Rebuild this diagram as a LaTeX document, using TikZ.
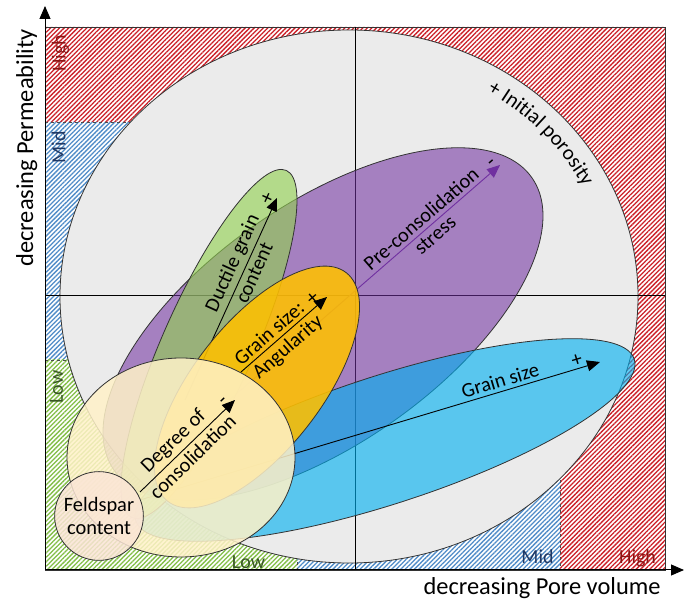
\documentclass[tikz,border=0pt]{standalone}
\usepackage{fontspec}
\setmainfont{Carlito}
\usepackage{xcolor}
\usetikzlibrary{arrows.meta,patterns.meta,decorations.text}

\definecolor{zoneHigh}{RGB}{204,32,40}
\definecolor{zoneMid}{RGB}{80,140,200}
\definecolor{zoneLow}{RGB}{130,190,70}
\definecolor{txtHigh}{RGB}{140,20,20}
\definecolor{txtMid}{RGB}{31,56,100}
\definecolor{txtLow}{RGB}{56,87,35}
\definecolor{porogrey}{RGB}{235,235,235}
\definecolor{stressviolet}{RGB}{112,48,160}
\definecolor{sizeblue}{RGB}{0,176,240}
\definecolor{ductgreen}{RGB}{146,208,80}
\definecolor{angorange}{RGB}{255,192,0}
\definecolor{consolcream}{RGB}{255,242,200}
\definecolor{feldpink}{RGB}{251,229,214}

\begin{document}
\begin{tikzpicture}[x=1bp, y=1bp,
  hatch/.style={pattern={Lines[angle=45,distance=3.2bp,line width=1.3bp]}},
  zone/.style={draw=black!70, dashed, line width=0.6bp},
  blob/.style={draw=black!80, line width=0.8bp},
  arr/.style={-{Triangle[length=13bp,width=11bp]}, line width=0.9bp},
  lbl/.style={font=\fontsize{20.5}{23}\selectfont, text=black, inner sep=3.5bp},
  sign/.style={font=\fontsize{21}{23}\selectfont, text=black, inner sep=2bp},
  zlbl/.style={font=\fontsize{20}{22}\selectfont, inner sep=0pt},
  axlbl/.style={font=\fontsize{24.5}{27}\selectfont, inner sep=0pt}]

\useasboundingbox (0,0) rectangle (686,608);

% frame corners and centres
\coordinate (o) at (45,38);
\coordinate (tr) at (665,581);
\coordinate (porC) at (349,311.5);
\coordinate (stC) at (323,284);
\coordinate (gsC) at (385,168);
\coordinate (dgC) at (209,264);
\coordinate (gaC) at (257,221);
\coordinate (dcC) at (181,150.5);

% arrow ends
\coordinate (stS) at (150,139);  \coordinate (stE) at (500,443);
\coordinate (gsS) at (140,108);  \coordinate (gsE) at (600,246);
\coordinate (dgS) at (185,208);  \coordinate (dgE) at (277,410);
\coordinate (gaS) at (241,236);  \coordinate (gaE) at (327,311);
\coordinate (dcS) at (140,116);  \coordinate (dcE) at (235,208);

% High / Mid / Low zones
\fill[white] (o) rectangle (tr);
\path[hatch, pattern color=zoneHigh] (45,581) -- (665,581) -- (665,38) -- (560,38) -- (560,486) -- (45,486) -- cycle;
\path[hatch, pattern color=zoneMid] (45,486) -- (560,486) -- (560,38) -- (297,38) -- (297,248) -- (45,248) -- cycle;
\path[hatch, pattern color=zoneLow] (45,248) rectangle (297,38);
\draw[zone] (45,486) -- (560,486) -- (560,38);
\draw[zone] (45,248) -- (297,248) -- (297,38);
\draw[black!80, line width=0.8bp] (o) rectangle (tr);

% initial porosity
\filldraw[blob, fill=porogrey] (porC) ellipse [x radius=289bp, y radius=266.5bp];
\draw[line width=0.9bp] (45,313) -- (665,313);
\draw[line width=0.9bp] (355,38) -- (355,581);

% pre-consolidation stress
\filldraw[blob, fill=stressviolet, fill opacity=0.57, rotate around={35:(stC)}] (stC) ellipse [x radius=255bp, y radius=120bp];
\draw[arr, stressviolet] (stS) -- (stE)
  node[lbl, pos=0.795, sloped, above] (stUp) {Pre-consolidation}
  node[lbl, pos=0.795, sloped, below] (stDn) {stress}
  node[sign, pos=0.99, sloped, above] (stSign) {-};

% grain size
\filldraw[blob, fill=sizeblue, fill opacity=0.62, rotate around={18:(gsC)}] (gsC) ellipse [x radius=262bp, y radius=64bp];
\draw[arr] (gsS) -- (gsE)
  node[lbl, pos=0.79, sloped, above] (gsUp) {Grain size}
  node[sign, pos=0.955, sloped, above] (gsSign) {+};

% ductile grains
\filldraw[blob, fill=ductgreen, fill opacity=0.62, rotate around={66:(dgC)}] (dgC) ellipse [x radius=190bp, y radius=46bp];
\draw[arr] (dgS) -- (dgE)
  node[lbl, pos=0.65, sloped, above] (dgUp) {Ductile grain}
  node[lbl, pos=0.65, sloped, below] (dgDn) {content}
  node[sign, pos=0.98, sloped, above] (dgSign) {+};

% angularity
\filldraw[blob, fill=angorange, fill opacity=0.88, rotate around={52:(gaC)}] (gaC) ellipse [x radius=145bp, y radius=64bp];
\draw[arr] (gaS) -- (gaE)
  node[lbl, pos=0.41, sloped, above] (gaUp) {Grain size:}
  node[lbl, pos=0.45, sloped, below] (gaDn) {Angularity}
  node[sign, pos=0.9, sloped, above] (gaSign) {+};

% consolidation
\filldraw[blob, fill=consolcream, fill opacity=0.85] (dcC) ellipse [x radius=114bp, y radius=99.5bp];
\draw[arr] (dcS) -- (dcE)
  node[lbl, pos=0.45, sloped, above] (dcUp) {Degree of}
  node[lbl, pos=0.47, sloped, below] (dcDn) {consolidation}
  node[sign, pos=0.93, sloped, above] (dcSign) {-};

% feldspar
\node[circle, blob, fill=feldpink, fill opacity=0.85, text opacity=1, minimum size=88bp, inner sep=0pt, align=center, lbl] (fs) at (99,92) {Feldspar\\content};

% text along the envelope
\path[decorate, decoration={text along path, text align=center,
  text={|\fontsize{21}{23}\selectfont|+ Initial porosity}}]
  (porC) ++(64:263bp and 241bp) arc[start angle=64, end angle=21, x radius=263bp, y radius=241bp];

% axes
\coordinate (ytip) at (45,602);
\coordinate (xtip) at (684,38);
\draw[arr, line width=1bp] (o) -- (ytip);
\draw[arr, line width=1bp] (o) -- (xtip);
\node[axlbl, rotate=90, anchor=base] (ylab) at (33,460) {decreasing Permeability};
\node[axlbl, anchor=base] (xlab) at (542,13) {decreasing Pore volume};

% zone labels
\node[zlbl, text=txtHigh, rotate=90] (hiL) at (60.5,554.5) {High};
\node[zlbl, text=txtMid, rotate=90] (miL) at (58.5,460.5) {Mid};
\node[zlbl, text=txtLow, rotate=90] (loL) at (56.5,221) {Low};
\node[zlbl, text=txtLow] (loB) at (248.5,46) {Low};
\node[zlbl, text=txtMid] (miB) at (537.5,51) {Mid};
\node[zlbl, text=txtHigh] (hiB) at (637.5,50) {High};
\end{tikzpicture}
\end{document}
